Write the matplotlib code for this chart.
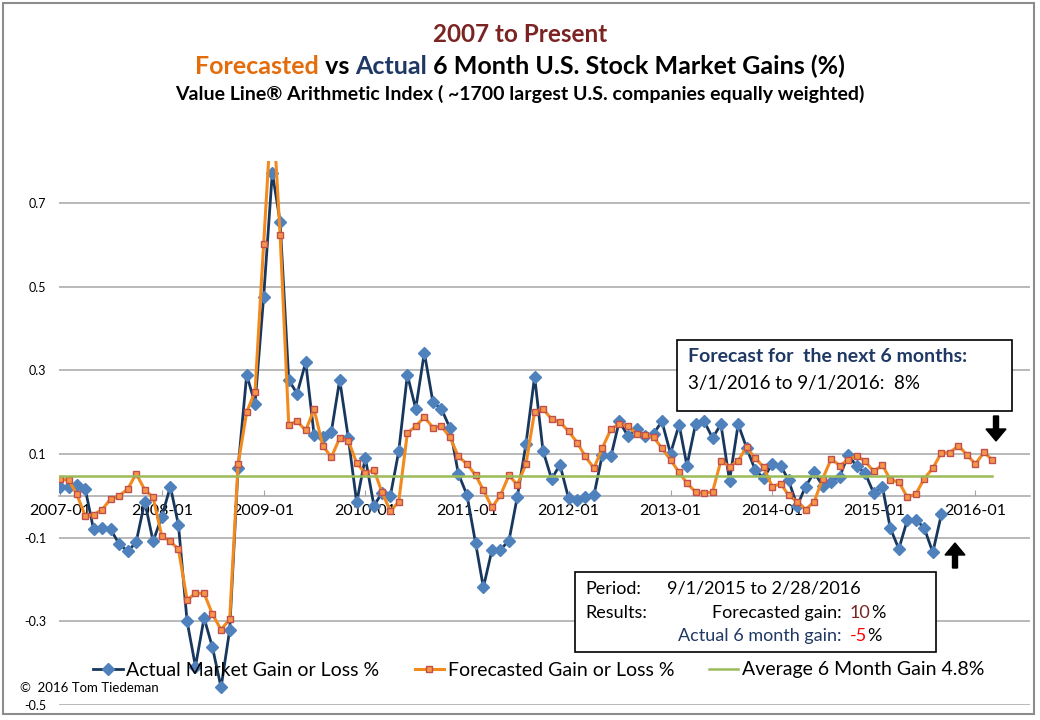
import numpy as np
import pandas as pd
import matplotlib
matplotlib.use('Agg')
import matplotlib.pyplot as plt
import matplotlib.dates as mdates
from matplotlib.patches import Rectangle, FancyArrow

plt.rcParams['font.family'] = ['Lato', 'DejaVu Sans']

# monthly values, first point = 2007-01
actual = [0.02, 0.02, 0.026, 0.017, -0.08, -0.077, -0.08, -0.115, -0.133, -0.111,
          -0.014, -0.109, -0.05, 0.022, -0.07, -0.30, -0.408, -0.292, -0.362, -0.458,
          -0.32, 0.066, 0.289, 0.22, 0.476, 0.772, 0.655, 0.277, 0.244, 0.319,
          0.146, 0.141, 0.153, 0.277, 0.138, -0.016, 0.091, -0.024, 0.006, 0.0,
          0.106, 0.289, 0.208, 0.342, 0.223, 0.208, 0.162, 0.053, 0.002, -0.113,
          -0.219, -0.129, -0.129, -0.107, -0.002, 0.124, 0.285, 0.108, 0.04, 0.074,
          -0.006, -0.01, -0.004, 0.001, 0.098, 0.094, 0.178, 0.143, 0.159, 0.142,
          0.148, 0.178, 0.101, 0.17, 0.072, 0.171, 0.179, 0.138, 0.171, 0.036,
          0.171, 0.115, 0.062, 0.042, 0.076, 0.072, 0.037, -0.024, 0.022, 0.056,
          0.024, 0.034, 0.046, 0.098, 0.07, 0.054, 0.006, 0.022, -0.077, -0.127,
          -0.059, -0.057, -0.077, -0.135, -0.044]
forecast = [0.04, 0.037, 0.005, -0.048, -0.045, -0.033, -0.008, 0.0, 0.016, 0.053,
            0.014, -0.003, -0.096, -0.109, -0.128, -0.249, -0.233, -0.233, -0.283, -0.32,
            -0.295, 0.075, 0.2, 0.249, 0.602, 0.95, 0.624, 0.17, 0.178, 0.156,
            0.207, 0.12, 0.092, 0.138, 0.132, 0.078, 0.054, 0.062, 0.01, -0.037,
            -0.014, 0.15, 0.166, 0.188, 0.163, 0.166, 0.14, 0.094, 0.076, 0.049,
            0.014, -0.028, 0.001, 0.049, 0.026, 0.076, 0.201, 0.208, 0.183, 0.176,
            0.154, 0.127, 0.094, 0.066, 0.114, 0.159, 0.172, 0.166, 0.148, 0.146,
            0.14, 0.114, 0.086, 0.056, 0.03, 0.009, 0.006, 0.009, 0.084, 0.069,
            0.084, 0.116, 0.09, 0.069, 0.022, 0.029, 0.001, -0.014, -0.033, -0.014,
            0.04, 0.088, 0.072, 0.086, 0.096, 0.082, 0.058, 0.074, 0.038, 0.033,
            -0.003, 0.004, 0.041, 0.066, 0.103, 0.103, 0.12, 0.098, 0.076, 0.104,
            0.086]
avg_gain = 0.048

dates_act = pd.date_range('2007-01-01', periods=len(actual), freq='MS')
dates_fc = pd.date_range('2007-01-01', periods=len(forecast), freq='MS')
ytick_vals = [-0.5, -0.3, -0.1, 0.1, 0.3, 0.5, 0.7]
ytick_labels = ['-0.5', '-0.3', '-0.1', '0.1', '0.3', '0.5', '0.7']
year_ticks = pd.date_range('2007-01-01', '2016-01-01', freq='YS')

W, H = 1040, 720
def fx(x):
    return x / W
def fy(y):
    return 1 - y / H

fig = plt.figure(figsize=(10.4, 7.2), dpi=100)
ax = fig.add_axes([fx(59), fy(705), fx(1030 - 59), (705 - 161) / H])

grid_c = '#a6a6a6'
for v in ytick_vals:
    ax.axhline(v, color=grid_c, lw=1.1, zorder=1)

ax.plot(dates_act, actual, color='#17375E', lw=2.0, marker='D', ms=6,
        mfc='#4F81BD', mec='#4F81BD', zorder=3, label='Actual Market Gain or Loss %')
ax.plot(dates_fc, forecast, color='#F28A1E', lw=2.2, marker='s', ms=5,
        mfc='#F79646', mec='#C0504D', mew=1, zorder=4, label='Forecasted Gain or Loss %')
ax.plot(dates_fc, np.full(len(dates_fc), avg_gain), color='#9BBB59', lw=1.8,
        zorder=5, label='Average 6 Month Gain 4.8%')

ax.set_ylim(-0.5, 0.8)
ax.set_xlim(pd.Timestamp('2006-12-28'), pd.Timestamp('2016-07-15'))
ax.set_yticks(ytick_vals)
ax.set_yticklabels(ytick_labels)
ax.tick_params(axis='y', length=0, pad=9, labelsize=9)
ax.set_xticks(year_ticks)
ax.xaxis.set_major_formatter(mdates.DateFormatter('%Y-%m'))
ax.tick_params(axis='x', direction='in', length=4, color=grid_c, labelsize=11.5, pad=6)

for s in ['top', 'right', 'left']:
    ax.spines[s].set_visible(False)
ax.spines['bottom'].set_position(('data', 0))
ax.spines['bottom'].set_color(grid_c)
ax.spines['bottom'].set_linewidth(1.1)
ax.patch.set_alpha(0)

# legend
fig.legend(loc='center', bbox_to_anchor=(fx(539), fy(670)), ncol=3, frameon=False,
           fontsize=14, handlelength=1.5, columnspacing=1.8, handletextpad=0.2)

fig.text(fx(20), fy(688), '\u00a9  2016 Tom Tiedeman', fontsize=9.5, va='center')

# outer border
fig.patches.append(Rectangle((fx(3), fy(714)), fx(1031), (714 - 3) / H, transform=fig.transFigure,
                             fill=False, ec='#8c8c8c', lw=1.5))

# titles
renderer = fig.canvas.get_renderer()

def colored_line(parts, y, size):
    texts = [fig.text(0, fy(y), s, color=c, fontsize=size, weight='bold', va='center')
             for s, c in parts]
    widths = [t.get_window_extent(renderer).width for t in texts]
    x = (W - sum(widths)) / 2
    for t, w in zip(texts, widths):
        t.set_x(fx(x))
        x += w

colored_line([('2007 to Present', '#7B2423')], 34, 17.5)
colored_line([('Forecasted', '#E46C0A'), (' vs ', 'black'), ('Actual', '#1F3864'),
              (' 6 Month U.S. Stock Market Gains (%)', 'black')], 66, 18)
colored_line([('Value Line\u00ae Arithmetic Index ( ~1700 largest U.S. companies equally weighted)',
               'black')], 94, 14)

# forecast box
fig.patches.append(Rectangle((fx(677), fy(411)), fx(1012 - 677), (411 - 340) / H,
                             transform=fig.transFigure, fc='white', ec='black', lw=1.2, zorder=6))
fig.text(fx(688), fy(357), 'Forecast for  the next 6 months:', color='#1F3864', weight='bold',
         fontsize=14, va='center', zorder=7)
fig.text(fx(688), fy(384), '3/1/2016 to 9/1/2016:  8%', color='black', fontsize=13.5,
         va='center', zorder=7)

# results box
fig.patches.append(Rectangle((fx(575), fy(652)), fx(936 - 575), (652 - 572) / H,
                             transform=fig.transFigure, fc='white', ec='black', lw=1.2, zorder=6))
bs = 13
fig.text(fx(585), fy(589), 'Period:', fontsize=bs, va='center', zorder=7)
fig.text(fx(667), fy(589), '9/1/2015 to 2/28/2016', fontsize=bs, va='center', zorder=7)
fig.text(fx(585), fy(613), 'Results:', fontsize=bs, va='center', zorder=7)
fig.text(fx(842), fy(613), 'Forecasted gain:', fontsize=bs, va='center', ha='right', zorder=7)
t = fig.text(fx(850), fy(613), '10', fontsize=bs, va='center', color='#7B2423', zorder=7)
fig.text(fx(850) + t.get_window_extent(renderer).width / W, fy(613), '%', fontsize=bs,
         va='center', zorder=7)
fig.text(fx(842), fy(636), 'Actual 6 month gain:', fontsize=bs, va='center', ha='right',
         color='#1F3864', zorder=7)
t = fig.text(fx(850), fy(636), '-5', fontsize=bs, va='center', color='#FF0000', zorder=7)
fig.text(fx(850) + t.get_window_extent(renderer).width / W, fy(636), '%', fontsize=bs,
         va='center', zorder=7)

# arrows
fig.patches.append(FancyArrow(fx(996), fy(416), 0, -(441 - 416) / H, width=fx(5),
                              head_width=fx(20), head_length=12 / H, length_includes_head=True,
                              transform=fig.transFigure, color='black'))
fig.patches.append(FancyArrow(fx(955), fy(568), 0, (568 - 543) / H, width=fx(5),
                              head_width=fx(20), head_length=12 / H, length_includes_head=True,
                              transform=fig.transFigure, color='black'))

fig.savefig('out.png', dpi=100)
